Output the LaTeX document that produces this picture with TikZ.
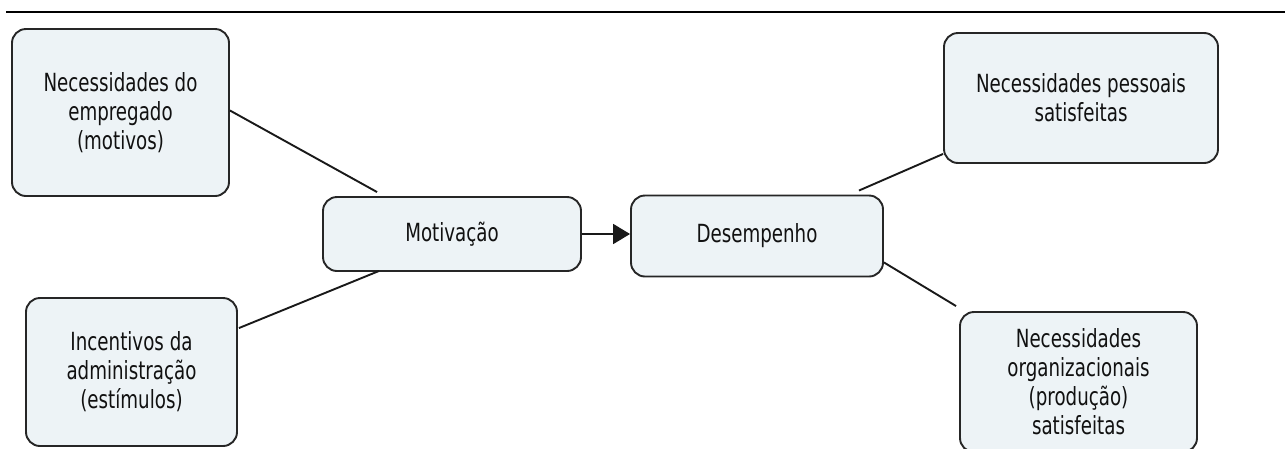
\documentclass[tikz,border=0pt]{standalone}
\usepackage{fontspec}
\setmainfont{DejaVu Sans}[FakeStretch=0.73]
\usetikzlibrary{arrows.meta}
\definecolor{boxfill}{HTML}{EDF3F6}
\definecolor{boxline}{HTML}{262626}
\definecolor{txt}{HTML}{111111}
\begin{document}
\begin{tikzpicture}[x=1pt,y=-1pt,
  box/.style={draw=boxline, line width=1.9pt, fill=boxfill, rounded corners=14pt,
    align=center, text=txt, inner sep=0pt,
    font=\fontsize{25pt}{29pt}\selectfont},
  conn/.style={draw=black!90, line width=1.9pt}]
\clip (0,0) rectangle (1285,448);
\useasboundingbox (0,0) rectangle (1285,448);
\coordinate (rl) at (6,12);
\coordinate (rr) at (1285,12);
\draw[line width=2.4pt] (rl) -- (rr);
\node[box, minimum width=217pt, minimum height=167pt] (n1) at (120.5,112.5) {Necessidades do\\empregado\\(motivos)};
\node[box, minimum width=211pt, minimum height=148pt] (n2) at (131.5,372) {Incentivos da\\administração\\(estímulos)};
\node[box, minimum width=258pt, minimum height=74pt] (mot) at (452,234) {Motivação};
\node[box, minimum width=252pt, minimum height=81pt] (des) at (757,236) {Desempenho};
\node[box, minimum width=274pt, minimum height=130pt] (tr) at (1081,98) {Necessidades pessoais\\satisfeitas};
\node[box, minimum width=237pt, minimum height=140pt] (br) at (1078.5,382) {Necessidades\\organizacionais\\(produção)\\satisfeitas};
\draw[conn] ([yshift=2pt]n1.east) -- ([xshift=55pt,yshift=4pt]mot.north west);
\draw[conn] ([xshift=1pt,yshift=-31pt]n2.north east) -- ([xshift=57pt,yshift=1pt]mot.south west);
\draw[conn] ([xshift=-25pt,yshift=4pt]des.north east) -- ([yshift=10pt]tr.south west);
\draw[conn] ([yshift=15pt]des.south east) -- ([xshift=-3pt,yshift=5pt]br.north west);
\draw[conn, -{Triangle[length=17pt,width=20pt]}] (mot.east) -- (des.west |- mot.east);
\end{tikzpicture}
\end{document}
